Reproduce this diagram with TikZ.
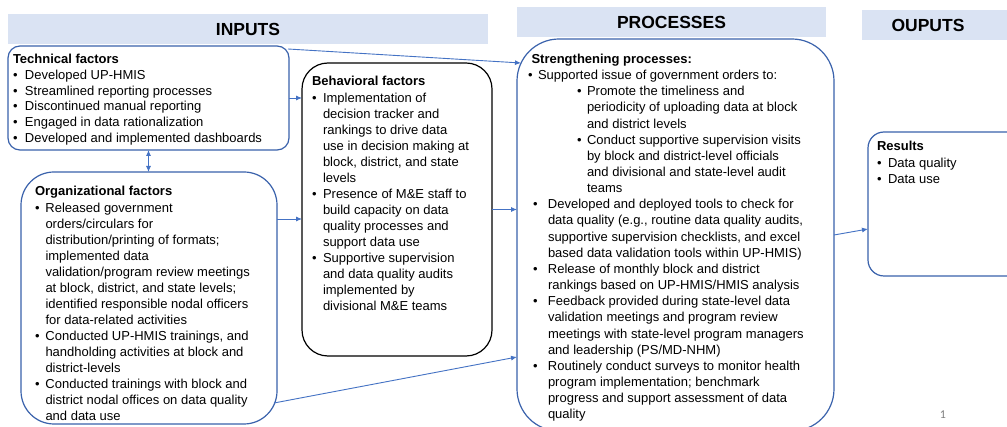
\documentclass[tikz,border=0pt]{standalone}
\usepackage{fontspec}
\setmainfont{Liberation Sans}
\newfontfamily\pgnumfont{Carlito}
\usetikzlibrary{arrows.meta}
\definecolor{hdrfill}{HTML}{DAE3F3}
\definecolor{boxblue}{HTML}{3A62AC}
\definecolor{arrblue}{HTML}{4472C4}
\newcommand\bul[3]{\par\hangindent=\dimexpr#1+#2\relax\hangafter=1\noindent\hspace*{#1}\makebox[#2][l]{\textbullet}#3}
\newcommand\txtblock[2]{\begin{minipage}[t]{#1}\raggedright\parindent=0pt\parskip=0pt #2\par\end{minipage}}
\tikzset{
  hdr/.style={fill=hdrfill, minimum height=30pt, inner sep=0pt, outer sep=0pt, anchor=north west, font=\fontsize{17.5}{20}\selectfont\bfseries},
  box/.style={draw=boxblue, line width=1.2pt, fill=white, inner sep=0pt, outer sep=0pt, anchor=north west},
  txt/.style={anchor=base west, inner sep=0pt, outer sep=0pt, font=\fontsize{13}{16.05}\selectfont},
  arr/.style={draw=arrblue, line width=0.9pt, -{Latex[length=6pt,width=5pt]}},
  dbl/.style={draw=arrblue, line width=0.9pt, {Latex[length=6pt,width=5pt]}-{Latex[length=6pt,width=5pt]}}
}
\begin{document}
\begin{tikzpicture}[x=1pt,y=-1pt]
\clip (0,0) rectangle (1007,427);
\fill[white] (0,0) rectangle (1007,427);
% headers
\node[hdr, minimum width=480pt] (hin) at (8,14) {INPUTS};
\node[hdr, minimum width=309pt] (hproc) at (517,7) {PROCESSES};
\node[hdr, minimum width=152pt] (hout) at (862,10) {\makebox[132pt]{OUPUTS}\hspace*{20pt}};
% boxes
\node[box, rounded corners=12pt, minimum width=281pt, minimum height=104pt] (tech) at (8,46) {};
\node[box, rounded corners=33pt, minimum width=256pt, minimum height=252pt] (org) at (21,172) {};
\node[box, draw=black, rounded corners=26pt, minimum width=190pt, minimum height=293pt] (behav) at (302,63) {};
\node[box, rounded corners=42pt, minimum width=317pt, minimum height=392pt] (proc) at (517,39) {};
\node[box, rounded corners=16pt, minimum width=160pt, minimum height=144pt] (res) at (868,132) {};
% texts
\node[txt] (techtxt) at (13,63.5) {\txtblock{275pt}{\fontsize{13}{15.8}\selectfont\textbf{Technical factors}
\bul{0pt}{12pt}{Developed UP-HMIS}
\bul{0pt}{12pt}{Streamlined reporting processes}
\bul{0pt}{12pt}{Discontinued manual reporting}
\bul{0pt}{12pt}{Engaged in data rationalization}
\bul{0pt}{12pt}{Developed and implemented dashboards}}};
\node[txt] (orgtxt) at (35,196) {\txtblock{240pt}{\textbf{Organizational factors}
\bul{0pt}{10.5pt}{Released government\newline orders/circulars for\newline distribution/printing of formats;\newline implemented data\newline validation/program review meetings\newline at block, district, and state levels;\newline identified responsible nodal officers\newline for data-related activities}
\bul{0pt}{10.5pt}{Conducted UP-HMIS trainings, and\newline handholding activities at block and\newline district-levels}
\bul{0pt}{10.5pt}{Conducted trainings with block and\newline district nodal offices on data quality\newline and data use}}};
\node[txt] (behavtxt) at (312,86) {\txtblock{180pt}{\textbf{Behavioral factors}
\bul{0pt}{11pt}{Implementation of\newline decision tracker and\newline rankings to drive data\newline use in decision making at\newline block, district, and state\newline levels}
\bul{0pt}{11pt}{Presence of M\&E staff to\newline build capacity on data\newline quality processes and\newline support data use}
\bul{0pt}{11pt}{Supportive supervision\newline and data quality audits\newline implemented by\newline divisional M\&E teams}}};
\node[txt] (proctxt) at (528,63.5) {\txtblock{300pt}{\fontsize{13}{16.15}\selectfont\hspace*{3.5pt}\textbf{Strengthening processes:}
\bul{0pt}{10pt}{Supported issue of government orders to:}
\bul{49pt}{10pt}{Promote the timeliness and\newline periodicity of uploading data at block\newline and district levels}
\bul{49pt}{10pt}{Conduct supportive supervision visits\newline by block and district-level officials\newline and divisional and state-level audit\newline teams}
\bul{5pt}{15pt}{Developed and deployed tools to check for\newline data quality (e.g., routine data quality audits,\newline supportive supervision checklists, and excel\newline based data validation tools within UP-HMIS)}
\bul{5pt}{15pt}{Release of monthly block and district\newline rankings based on UP-HMIS/HMIS analysis}
\bul{5pt}{15pt}{Feedback provided during state-level data\newline validation meetings and program review\newline meetings with state-level program managers\newline and leadership (PS/MD-NHM)}
\bul{5pt}{15pt}{Routinely conduct surveys to monitor health\newline program implementation; benchmark\newline progress and support assessment of data\newline quality}}};
\node[txt] (restxt) at (877,151) {\txtblock{125pt}{\textbf{Results}
\bul{0pt}{11pt}{Data quality}
\bul{0pt}{11pt}{Data use}}};
% connectors
\draw[arr] ([xshift=-1pt,yshift=-3pt]tech.north east) -- ([xshift=4pt,yshift=-24pt]proc.north west);
\draw[arr] (tech.east) -- (tech.east -| behav.west);
\draw[dbl] (tech.south) -- (tech.south |- org.north);
\draw[arr] ([yshift=79pt]org.east) -- ([yshift=79pt]org.east -| behav.west);
\draw[arr] (behav.east) -- (behav.east -| proc.west);
\draw[arr] ([xshift=-3pt,yshift=21pt]org.south east) -- ([yshift=-122pt]proc.west);
\draw[arr] (proc.east) -- ([yshift=-25pt]res.west);
% page number
\node[font=\pgnumfont\fontsize{12}{14}\selectfont, text=gray, inner sep=0pt] (pg) at (943,415) {1};
\end{tikzpicture}
\end{document}
